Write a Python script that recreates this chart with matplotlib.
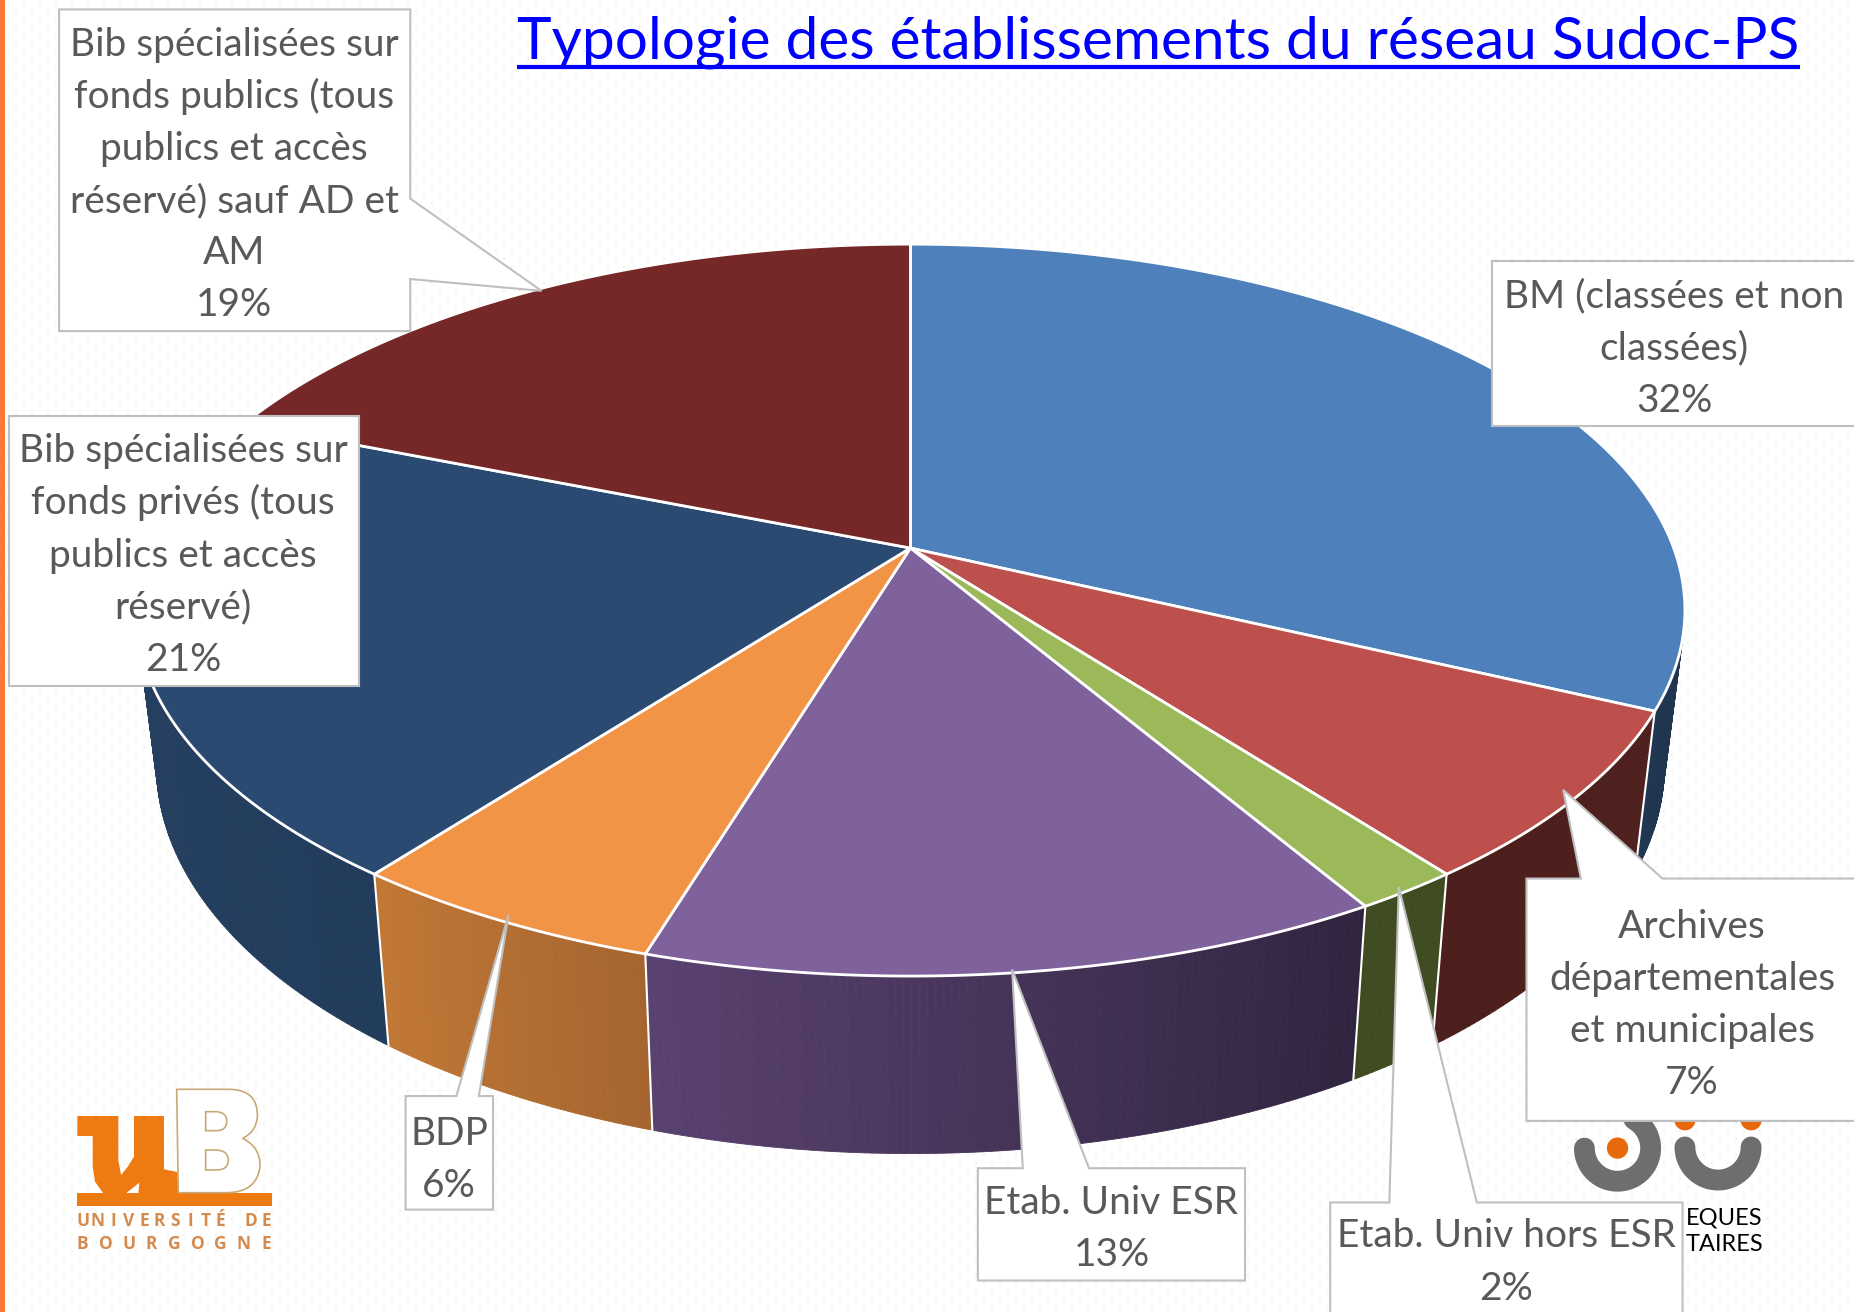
#!/usr/bin/env python3
"""Typologie des etablissements du reseau Sudoc-PS - 3D pie with callouts"""

import numpy as np
import matplotlib
matplotlib.use('Agg')
import matplotlib.pyplot as plt
from matplotlib.patches import Polygon, PathPatch, Circle
from matplotlib.path import Path
from matplotlib.collections import PolyCollection

plt.rcParams['font.family'] = ['Lato', 'DejaVu Sans']

# Data, clockwise from the top of the pie
categories = ['BM (classées et non\nclassées)',
              'Archives\ndépartementales\net municipales',
              'Etab. Univ hors ESR',
              'Etab. Univ ESR',
              'BDP',
              'Bib spécialisées sur\nfonds privés (tous\npublics et accès\nréservé)',
              'Bib spécialisées sur\nfonds publics (tous\npublics et accès\nréservé) sauf AD et\nAM']
percent_labels = ['32%', '7%', '2%', '13%', '6%', '21%', '19%']
shares = [32.0, 7.6, 1.9, 13.2, 5.7, 20.65, 18.95]

top_colors = ['#4e80bb', '#bd4f4c', '#9bb958', '#7f619c', '#f29445', '#2a4a72', '#752827']
# wall colours run clockwise, so right hand end first
wall_start = ['#1f3550', '#4e1f1d', '#3f4c21', '#30243f', '#a66530', '#223c5c', '#4e1f1d']
wall_end = ['#1f3550', '#4c1e1c', '#3f4c21', '#5a4270', '#c27835', '#264262', '#4e1f1d']

TEXT_COLOR = '#595959'
EDGE_COLOR = '#bfbfbf'
K = 1854 / 1568
W, H = 1568, 1312 / K

# pie geometry, in the 1568 wide picture
APEX = (770.0, 463.5)
A, B, PERSP = 645.5, 300.6, 0.1696
SHRINK = 0.9735


def rim(theta):
    u, v = np.sin(theta), np.cos(theta)
    d = 1 + PERSP * v
    return APEX[0] + A * u / d, APEX[1] - B * v / d


def lower(x, y):
    return APEX[0] + (x - APEX[0]) * SHRINK, 885 + (y - 740) * 1.06


def lerp_color(c1, c2, t):
    c1 = np.array(matplotlib.colors.to_rgb(c1))
    c2 = np.array(matplotlib.colors.to_rgb(c2))
    return tuple(c1 + (c2 - c1) * t)


def background():
    img = np.ones((1312, 1854, 3))
    yy, xx = np.mgrid[0:1312, 0:1854]
    dots = (np.isin(yy % 16, [10, 11]) & np.isin(xx % 16, [15, 0])) | \
           (np.isin(yy % 16, [2, 3]) & np.isin(xx % 16, [7, 8]))
    img[dots] = matplotlib.colors.to_rgb('#f1f0e4')
    img[:, :5] = matplotlib.colors.to_rgb('#fd7735')
    return img


def draw_pie(ax):
    edges = np.deg2rad(np.concatenate([[0], np.cumsum(shares)]) / sum(shares) * 360)

    # side walls first, the top hides what is behind
    for i in range(len(shares)):
        n = max(int(np.degrees(edges[i + 1] - edges[i]) * 2), 6)
        t = np.linspace(edges[i], edges[i + 1], n + 1)
        x, y = rim(t)
        xb, yb = lower(x, y)
        quads, cols = [], []
        for j in range(n):
            quads.append([(x[j], y[j]), (x[j + 1], y[j + 1]), (xb[j + 1], yb[j + 1]), (xb[j], yb[j])])
            cols.append(lerp_color(wall_start[i], wall_end[i], j / n))
        ax.add_collection(PolyCollection(quads, facecolors=cols, edgecolors=cols, linewidths=0.6, zorder=2))

    for e in edges[:-1]:
        x, y = rim(e)
        xb, yb = lower(x, y)
        ax.plot([x, xb], [y, yb], color='white', lw=1.5, zorder=3)

    # top face
    for i in range(len(shares)):
        t = np.linspace(edges[i], edges[i + 1], 120)
        x, y = rim(t)
        pts = np.column_stack([np.r_[APEX[0], x], np.r_[APEX[1], y]])
        ax.add_patch(Polygon(pts, closed=True, facecolor=top_colors[i], edgecolor='white',
                             linewidth=2, joinstyle='round', zorder=4))


def draw_logo_ub(ax):
    def lz(zx, zy):
        return ((40 + zx / 3) / K, (1060 + zy / 3) / K)

    orange = '#ee7a12'
    bar = [lz(112, 398), lz(695, 398), lz(695, 438), lz(112, 438)]
    ax.add_patch(Polygon(bar, closed=True, fc=orange, ec='none', zorder=1.5))

    u_shape = [(112, 168), (235, 168), (235, 300), (243, 345), (262, 322), (282, 290), (282, 168),
               (372, 168), (372, 328), (412, 336), (415, 400), (295, 400), (298, 368), (258, 400),
               (190, 400), (165, 365), (158, 320), (158, 228), (112, 228)]
    ax.add_patch(Polygon([lz(*p) for p in u_shape], closed=True, fc=orange, ec='none', zorder=1.5))

    M, L, C, Z = Path.MOVETO, Path.LINETO, Path.CURVE3, Path.CLOSEPOLY
    outer = [(410, 88, M), (570, 88, L), (655, 90, C), (652, 170, C), (650, 215, C), (608, 235, C),
             (662, 262, C), (660, 320, C), (650, 398, C), (560, 398, C), (415, 398, L), (410, 88, Z)]
    hole1 = [(497, 155, M), (530, 155, L), (562, 158, C), (560, 185, C), (560, 212, C), (530, 212, C),
             (497, 212, L), (497, 155, Z)]
    hole2 = [(497, 270, M), (530, 270, L), (565, 272, C), (565, 300, C), (565, 330, C), (530, 330, C),
             (497, 330, L), (497, 270, Z)]
    verts, codes = [], []
    for part in (outer, hole1, hole2):
        for zx, zy, code in part:
            verts.append(lz(zx, zy))
            codes.append(code)
    ax.add_patch(PathPatch(Path(verts, codes), fc='white', ec='#c9a877', lw=1.2, zorder=1.6))

    for word, zy in (('UNIVERSITÉ DE', 497), ('BOURGOGNE', 568)):
        xs = np.linspace(lz(128, 0)[0], lz(680, 0)[0], len(word))
        for ch, xpos in zip(word, xs):
            ax.text(xpos, lz(0, zy)[1], ch, ha='center', va='baseline', fontsize=12.5,
                    family=['Open Sans', 'DejaVu Sans'], fontweight='bold', color='#d58a4e', zorder=1.6)


def draw_logo_right(ax):
    grey = '#6d6e70'
    orange = '#e8690c'
    t = np.deg2rad(np.linspace(180, -60, 80))
    ax.plot(1368 + 28 * np.cos(t), 971 + 28 * np.sin(t), color=grey, lw=15, solid_capstyle='round', zorder=1.5)
    t = np.deg2rad(np.linspace(180, 0, 80))
    ax.plot(1453 + 28 * np.cos(t), 970 + 28 * np.sin(t), color=grey, lw=15, solid_capstyle='round', zorder=1.5)
    for cx, cy in [(1368, 971), (1425, 947), (1481, 947)]:
        ax.add_patch(Circle((cx, cy), 9, fc=orange, ec='none', zorder=1.6))
    ax.text(1491, 1036, 'EQUES', ha='right', va='baseline', fontsize=17, color='black', zorder=1.6)
    ax.text(1491, 1058, 'TAIRES', ha='right', va='baseline', fontsize=17, color='black', zorder=1.6)


def draw_callouts(ax):
    # outline of each box with its pointer, then text centre and first baseline
    outlines = [
        [(1262, 221), (1590, 221), (1590, 360), (1262, 360)],
        [(1291, 743), (1337, 743), (1322, 668), (1406, 743), (1590, 743), (1590, 948), (1291, 948)],
        [(1125, 1017), (1175, 1017), (1183, 750), (1249, 1017), (1423, 1017), (1423, 1130), (1125, 1130)],
        [(827, 988), (865, 988), (856, 820), (921, 988), (1053, 988), (1053, 1083), (827, 1083)],
        [(343, 927), (386, 927), (430, 774), (405, 927), (417, 927), (417, 1023), (343, 1023)],
        [(8, 352), (304, 352), (304, 580), (8, 580)],
        [(50, 8), (347, 8), (347, 168), (458, 246), (347, 236), (347, 280), (50, 280)],
    ]
    text_x = [1416, 1431, 1274, 940, 380, 155, 198]
    text_y = [260, 793, 1055, 1027, 968, 391, 47]
    for i, pts in enumerate(outlines):
        ax.add_patch(Polygon(pts, closed=True, fc='white', ec=EDGE_COLOR, lw=1.5, zorder=6))
        lines = categories[i].split('\n') + [percent_labels[i]]
        for n, line in enumerate(lines):
            ax.text(text_x[i], text_y[i] + n * 44.1, line, ha='center', va='baseline',
                    fontsize=28, color=TEXT_COLOR, zorder=7)


def create_figure():
    fig = plt.figure(figsize=(18.54, 13.12), dpi=100)
    ax = fig.add_axes([0, 0, 1, 1])
    ax.imshow(background(), extent=(0, W, H, 0), aspect='auto', zorder=0, interpolation='nearest')

    draw_logo_ub(ax)
    draw_logo_right(ax)
    draw_pie(ax)
    draw_callouts(ax)

    ax.text(979.5, 49.5, 'Typologie des établissements du réseau Sudoc-PS', ha='center', va='baseline',
            fontsize=42.2, color='#0000ff', zorder=5)
    ax.plot([437, 1522], [57, 57], color='#0000ff', lw=3, solid_capstyle='butt', zorder=5)

    ax.set_xlim(0, W)
    ax.set_ylim(H, 0)
    ax.axis('off')
    return fig


if __name__ == "__main__":
    fig = create_figure()
    fig.savefig('out.png', dpi=100)
